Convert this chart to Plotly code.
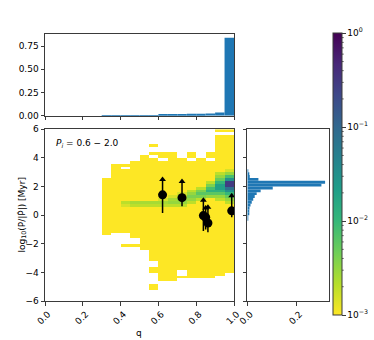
import numpy as np
import plotly.graph_objects as go

# --- bins of the 2D histogram ---
q_step = 0.05
y_step = 0.2
n_q = 20
n_y = 60

# columns that contain systems (left edge of each q bin)
col_q = [0.30, 0.35, 0.40, 0.45, 0.50, 0.55, 0.60, 0.65, 0.70, 0.75, 0.80, 0.85, 0.90, 0.95]
# extent of the low-density (yellow, < 1e-3) region in each column
col_top = [2.6, 3.6, 3.6, 3.8, 4.2, 4.4, 4.4, 4.4, 4.0, 4.4, 4.0, 4.4, 6.0, 6.0]
col_bottom = [-1.4, -1.2, -1.2, -1.6, -2.4, -3.2, -4.6, -4.6, -4.4, -4.4, -4.4, -4.4, -4.2, -4.0]

# isolated low-density cells outside that region (q left edge, y lower edge)
extra_q = [0.40, 0.45, 0.55, 0.55, 0.55, 0.55, 0.55]
extra_y = [-2.2, -2.2, -4.0, -3.8, -5.2, -5.0, 4.8]

# empty cells inside the region
empty_q = [0.40, 0.55, 0.60, 0.75, 0.85, 0.90, 0.95, 0.70, 0.70]
empty_y = [3.2, 4.0, 3.8, 3.8, 3.8, 5.6, 5.6, -4.2, -4.0]

# the populated ridge: first row (lower edge) and fractions going up
ridge_q = [0.40, 0.45, 0.50, 0.55, 0.60, 0.65, 0.70, 0.75, 0.80, 0.85, 0.90, 0.95]
ridge_y0 = [0.6, 0.6, 0.6, 0.6, 0.6, 0.6, 0.6, 0.8, 1.0, 1.2, 1.0, 0.8]
ridge_vals = [
    [1.5e-3, 2e-3],
    [2e-3, 2.5e-3],
    [2e-3, 2.5e-3],
    [2e-3, 2.5e-3],
    [2e-3, 2.5e-3, 1.5e-3],
    [2e-3, 3e-3, 2.5e-3, 1.5e-3],
    [2e-3, 3e-3, 3e-3, 2e-3, 1.5e-3],
    [2e-3, 3e-3, 4e-3, 3e-3, 2e-3],
    [2e-3, 4e-3, 6e-3, 4e-3, 2e-3],
    [3e-3, 6e-3, 0.012, 0.008, 0.004, 0.002],
    [2e-3, 3e-3, 6e-3, 0.012, 0.02, 0.02, 0.01, 0.005, 0.003, 0.002],
    [2e-3, 3e-3, 5e-3, 0.01, 0.03, 0.08, 0.30, 0.30, 0.03, 0.008, 0.003, 0.0015],
]
below_scale = 1e-4

# --- marginal histograms ---
top_hist_frac = [0.001, 0.001, 0.003, 0.003, 0.004, 0.005, 0.008, 0.010, 0.015,
                 0.020, 0.020, 0.025, 0.035, 0.84]
side_hist_y = [-0.4, -0.2, 0.0, 0.2, 0.4, 0.6, 0.8, 1.0, 1.2, 1.4, 1.6, 1.8,
               2.0, 2.2, 2.4, 2.6, 2.8, 3.0]
side_hist_frac = [0.002, 0.003, 0.005, 0.007, 0.009, 0.013, 0.018, 0.024, 0.030,
                  0.038, 0.054, 0.103, 0.30, 0.315, 0.045, 0.010, 0.005, 0.003]

# --- observed systems (lower limits) ---
pt_q = [0.622, 0.725, 0.838, 0.850, 0.862, 0.988]
pt_y = [1.42, 1.22, -0.03, -0.15, -0.55, 0.30]
pt_lo = [0.15, 0.62, -1.10, -1.00, -1.20, -0.15]
pt_hi = [2.50, 2.35, 1.05, 0.50, 0.55, 1.35]

# build the grid
z = np.full((n_y, n_q), np.nan)


def idx(q, y):
    return int(round((y + 6) / y_step)), int(round(q / q_step))


for q, top, bot in zip(col_q, col_top, col_bottom):
    for yy in np.arange(bot, top - 1e-9, y_step):
        z[idx(q, yy)] = below_scale
for q, yy in zip(extra_q, extra_y):
    z[idx(q, yy)] = below_scale
for q, yy in zip(empty_q, empty_y):
    z[idx(q, yy)] = np.nan
for q, y0, vals in zip(ridge_q, ridge_y0, ridge_vals):
    for k, v in enumerate(vals):
        z[idx(q, y0 + k * y_step)] = v

xc = np.arange(n_q) * q_step + q_step / 2
yc = -6 + np.arange(n_y) * y_step + y_step / 2

W, H = 374, 340
font = dict(family="DejaVu Sans", size=9, color="black")
LC = "#3a3a3a"

# colorbar placement (paper fractions)
cb_x0, cb_x1 = 332.7 / W, 341.7 / W
cb_y0, cb_y1 = 1 - 315 / H, 1 - 33.3 / H

sup = {-3: "−3", -2: "−2", -1: "−1", 0: "0"}
cb_vals = list(range(-3, 1))
cb_text = ["10<sup>%s</sup>" % sup[n] for n in cb_vals]

# minor log ticks on the colorbar
minor_shapes = []
for n in range(-3, 0):
    for k in range(2, 10):
        yy = cb_y0 + (n + np.log10(k) + 3) / 3 * (cb_y1 - cb_y0)
        minor_shapes.append(dict(type="line", xref="paper", yref="paper",
                                 x0=cb_x1, x1=cb_x1 + 2 / W, y0=yy, y1=yy,
                                 line=dict(color=LC, width=0.8)))

fig = go.Figure()
fig.add_trace(go.Heatmap(
    x=xc, y=yc, z=np.log10(z), colorscale="Viridis", reversescale=True,
    zmin=-3, zmax=0, hoverongaps=False, xaxis="x", yaxis="y",
    colorbar=dict(x=cb_x0, xanchor="left", y=cb_y0, yanchor="bottom",
                  len=cb_y1 - cb_y0, lenmode="fraction", thickness=9,
                  xpad=0, ypad=0, outlinewidth=1, outlinecolor=LC,
                  tickmode="array", tickvals=cb_vals, ticktext=cb_text,
                  ticks="outside", ticklen=3.5, tickcolor=LC, tickfont=font),
))

fig.add_trace(go.Scatter(
    x=pt_q, y=pt_y, mode="markers", xaxis="x", yaxis="y",
    marker=dict(color="black", size=9),
    error_y=dict(type="data", symmetric=False,
                 array=[h - y for h, y in zip(pt_hi, pt_y)],
                 arrayminus=[y - l for l, y in zip(pt_lo, pt_y)],
                 color="black", thickness=1.5, width=0),
))
fig.add_trace(go.Scatter(
    x=pt_q, y=pt_hi, mode="markers", xaxis="x", yaxis="y",
    marker=dict(color="black", size=6, symbol="triangle-up"),
))

fig.add_trace(go.Bar(
    x=[q + q_step / 2 for q in col_q], y=top_hist_frac, width=q_step,
    marker=dict(color="#1f77b4", line=dict(width=0)), xaxis="x2", yaxis="y2",
))
fig.add_trace(go.Bar(
    y=[v + y_step / 2 for v in side_hist_y], x=side_hist_frac, width=y_step,
    orientation="h", marker=dict(color="#1f77b4", line=dict(width=0)),
    xaxis="x3", yaxis="y3",
))

ax = dict(showline=True, mirror=True, linecolor=LC, linewidth=1, ticks="outside",
          ticklen=3.5, tickwidth=1, tickcolor=LC, showgrid=False, zeroline=False,
          tickfont=font, automargin=False)

main_x = [45 / W, 234 / W]
main_y = [1 - 301 / H, 1 - 129.3 / H]
q_ticks = [0, 0.2, 0.4, 0.6, 0.8, 1.0]
y_ticks = [-6, -4, -2, 0, 2, 4, 6]

fig.update_layout(
    width=W, height=H, margin=dict(l=0, r=0, t=0, b=0),
    paper_bgcolor="white", plot_bgcolor="white", showlegend=False, font=font,
    shapes=minor_shapes,
    xaxis=dict(ax, domain=main_x, range=[0, 1], tickvals=q_ticks,
               ticktext=["%.1f" % t for t in q_ticks], tickangle=-45,
               ticklabelshift=3, anchor="y"),
    yaxis=dict(ax, domain=main_y, range=[-6, 6], tickvals=y_ticks,
               ticktext=[str(t).replace("-", "−") for t in y_ticks], anchor="x"),
    xaxis2=dict(ax, domain=main_x, range=[0, 1], tickvals=q_ticks,
                showticklabels=False, anchor="y2"),
    yaxis2=dict(ax, domain=[1 - 115.7 / H, 1 - 34 / H], range=[0, 0.88],
                tickvals=[0, 0.25, 0.5, 0.75],
                ticktext=["0.00", "0.25", "0.50", "0.75"], anchor="x2"),
    xaxis3=dict(ax, domain=[247.3 / W, 329.3 / W], range=[0, 0.332],
                tickvals=[0, 0.2], ticktext=["0.0", "0.2"], tickangle=-45,
                ticklabelshift=3, anchor="y3"),
    yaxis3=dict(ax, domain=main_y, range=[-6, 6], tickvals=y_ticks,
                showticklabels=False, anchor="x3"),
    annotations=[
        dict(text="log<sub>10</sub>(P/|Ṗ|) [Myr]", xref="paper", yref="paper",
             x=14 / W, y=1 - 215 / H, textangle=-90, showarrow=False, font=font),
        dict(text="q", xref="paper", yref="paper", x=139 / W, y=0,
             yanchor="bottom", showarrow=False, font=font),
        dict(text="<i>P</i><sub><i>i</i></sub> = 0.6 − 2.0", xref="x", yref="y",
             x=0.045, y=5.0, xanchor="left", showarrow=False, font=font),
    ],
)

fig.write_html("out.html", config={"displayModeBar": False},
               post_script="document.body.style.margin='0';")
